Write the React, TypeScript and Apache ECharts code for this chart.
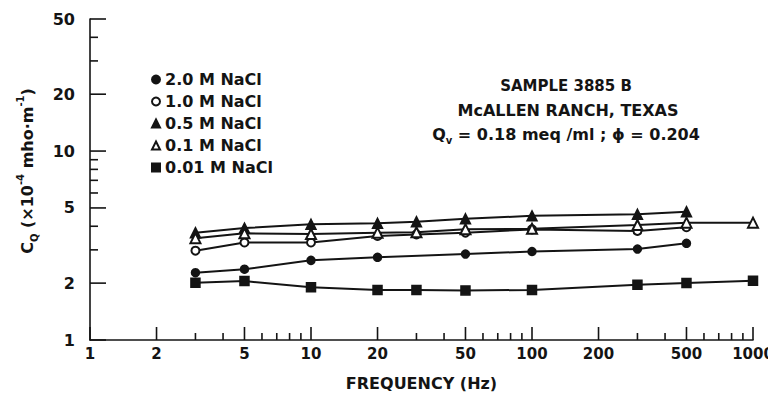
import React, { useEffect, useRef } from 'react';
import * as echarts from 'echarts';

// ---- data ----
const seriesNames = ['2.0 M NaCl', '1.0 M NaCl', '0.5 M NaCl', '0.1 M NaCl', '0.01 M NaCl'];
const seriesSymbols = ['circle', 'emptyCircle', 'triangle', 'emptyTriangle', 'rect'];

const freq20M = [3, 5, 10, 20, 50, 100, 300, 500];
const cq20M = [2.27, 2.37, 2.64, 2.74, 2.85, 2.94, 3.03, 3.25];

const freq10M = [3, 5, 10, 20, 30, 50, 100, 300, 500];
const cq10M = [2.97, 3.28, 3.28, 3.55, 3.62, 3.7, 3.85, 3.78, 3.95];

const freq05M = [3, 5, 10, 20, 30, 50, 100, 300, 500];
const cq05M = [3.7, 3.91, 4.1, 4.15, 4.23, 4.38, 4.54, 4.63, 4.78];

const freq01M = [3, 5, 10, 20, 30, 50, 100, 300, 500, 1000];
const cq01M = [3.46, 3.67, 3.64, 3.7, 3.72, 3.86, 3.88, 4.06, 4.18, 4.18];

const freq001M = [3, 5, 10, 20, 30, 50, 100, 300, 500, 1000];
const cq001M = [2.01, 2.05, 1.9, 1.84, 1.84, 1.83, 1.84, 1.96, 2.0, 2.06];

const xTickValues = [1, 2, 3, 4, 5, 6, 7, 8, 9, 10, 20, 30, 40, 50, 60, 70, 80, 90, 100, 200, 300, 400, 500, 600, 700, 800, 900, 1000];
const xLabelValues = [1, 2, 5, 10, 20, 50, 100, 200, 500, 1000];
const yTickValues = [1, 2, 3, 4, 5, 6, 7, 8, 9, 10, 20, 30, 40, 50];
const yLabelValues = [1, 2, 5, 10, 20, 50];

const annotationLines = ['SAMPLE 3885 B', 'McALLEN RANCH, TEXAS'];

const INK = '#141414';
const FONT = '"DejaVu Sans", sans-serif';
const WEIGHT = 'bold';

const seriesFreqs = [freq20M, freq10M, freq05M, freq01M, freq001M];
const seriesValues = [cq20M, cq10M, cq05M, cq01M, cq001M];

export default function App() {
  const ref = useRef<HTMLDivElement>(null);

  useEffect(() => {
    if (!ref.current) return;
    const chart = echarts.init(ref.current, undefined, { renderer: 'svg' });

    const lineSeries = seriesNames.map((name, i) => ({
      name,
      type: 'line',
      data: seriesFreqs[i].map((f, j) => [f, seriesValues[i][j]]),
      symbol: seriesSymbols[i],
      symbolSize: seriesSymbols[i].indexOf('riangle') >= 0 ? 10 : seriesSymbols[i] === 'rect' ? 9 : 8,
      lineStyle: { color: INK, width: 2 },
      itemStyle: { color: INK, borderColor: INK, borderWidth: 1.5 },
      z: 3,
    }));

    const xTickSeries = {
      type: 'custom',
      silent: true,
      clip: false,
      data: xTickValues.map((v) => [v, 1]),
      renderItem: (params: any, api: any) => {
        const v = api.value(0);
        const p = api.coord([v, 1]);
        const labeled = xLabelValues.indexOf(v) >= 0;
        const children: any[] = [
          {
            type: 'line',
            shape: { x1: p[0], y1: p[1], x2: p[0], y2: p[1] - (labeled ? 13 : 7) },
            style: { stroke: INK, lineWidth: 1.6 },
          },
        ];
        if (labeled) {
          children.push({
            type: 'text',
            x: p[0],
            y: p[1] + 6,
            style: {
              text: String(v),
              align: 'center',
              verticalAlign: 'top',
              fill: INK,
              fontSize: 15,
              fontWeight: WEIGHT,
              fontFamily: FONT,
            },
          });
        }
        return { type: 'group', children };
      },
    };

    const yTickSeries = {
      type: 'custom',
      silent: true,
      clip: false,
      data: yTickValues.map((v) => [1, v]),
      renderItem: (params: any, api: any) => {
        const v = api.value(1);
        const p = api.coord([1, v]);
        const labeled = yLabelValues.indexOf(v) >= 0;
        const children: any[] = [
          {
            type: 'line',
            shape: { x1: p[0], y1: p[1], x2: p[0] + (labeled ? 16 : 8), y2: p[1] },
            style: { stroke: INK, lineWidth: 1.6 },
          },
        ];
        if (labeled) {
          children.push({
            type: 'text',
            x: p[0] - 15,
            y: p[1],
            style: {
              text: String(v),
              align: 'right',
              verticalAlign: 'middle',
              fill: INK,
              fontSize: 16,
              fontWeight: WEIGHT,
              fontFamily: FONT,
            },
          });
        }
        return { type: 'group', children };
      },
    };

    const option: any = {
      animation: false,
      backgroundColor: '#ffffff',
      grid: { left: 90, right: 23, top: 19, bottom: 61, containLabel: false },
      xAxis: {
        type: 'log',
        logBase: 10,
        min: 1,
        max: 1000,
        name: 'FREQUENCY (Hz)',
        nameLocation: 'middle',
        nameGap: 35,
        nameTextStyle: { color: INK, fontSize: 16, fontWeight: WEIGHT, fontFamily: FONT },
        axisLine: { show: true, lineStyle: { color: INK, width: 1.6 } },
        axisTick: { show: false },
        axisLabel: { show: false },
        splitLine: { show: false },
        minorTick: { show: false },
        minorSplitLine: { show: false },
      },
      yAxis: {
        type: 'log',
        logBase: 10,
        min: 1,
        max: 50,
        axisLine: { show: true, lineStyle: { color: INK, width: 1.6 } },
        axisTick: { show: false },
        axisLabel: { show: false },
        splitLine: { show: false },
        minorTick: { show: false },
        minorSplitLine: { show: false },
      },
      legend: {
        orient: 'vertical',
        left: 151,
        top: 71,
        padding: 0,
        itemWidth: 8,
        itemHeight: 8,
        itemGap: 5,
        selectedMode: false,
        textStyle: { color: INK, fontSize: 16, fontWeight: WEIGHT, fontFamily: FONT, lineHeight: 17 },
        data: seriesNames.map((name, i) => ({ name, icon: seriesSymbols[i] })),
      },
      graphic: [
        {
          type: 'text',
          x: 27,
          y: 171,
          rotation: Math.PI / 2,
          style: {
            text: '{m|C}{sub|Q}{m| (×10}{sup|-4}{m| mho·m}{sup|-1}{m|)}',
            align: 'center',
            verticalAlign: 'middle',
            fill: INK,
            rich: {
              m: { fontSize: 16, fontWeight: WEIGHT, fontFamily: FONT, lineHeight: 24, fill: INK },
              sub: { fontSize: 10, fontWeight: WEIGHT, fontFamily: FONT, lineHeight: 10, verticalAlign: 'bottom', fill: INK },
              sup: { fontSize: 10, fontWeight: WEIGHT, fontFamily: FONT, lineHeight: 10, verticalAlign: 'top', fill: INK },
            },
          },
        },
        {
          type: 'text',
          x: 566,
          y: 86,
          style: { text: annotationLines[0], align: 'center', verticalAlign: 'middle', fill: INK, fontSize: 15, fontWeight: WEIGHT, fontFamily: FONT },
        },
        {
          type: 'text',
          x: 568,
          y: 110,
          style: { text: annotationLines[1], align: 'center', verticalAlign: 'middle', fill: INK, fontSize: 16, fontWeight: WEIGHT, fontFamily: FONT },
        },
        {
          type: 'text',
          x: 566,
          y: 134,
          style: {
            text: '{m|Q}{sub|v}{m| = 0.18 meq /ml ; ϕ = 0.204}',
            align: 'center',
            verticalAlign: 'middle',
            fill: INK,
            rich: {
              m: { fontSize: 16, fontWeight: WEIGHT, fontFamily: FONT, lineHeight: 22, fill: INK },
              sub: { fontSize: 10, fontWeight: WEIGHT, fontFamily: FONT, lineHeight: 10, verticalAlign: 'bottom', fill: INK },
            },
          },
        },
      ],
      series: [...lineSeries, xTickSeries, yTickSeries],
    };

    chart.setOption(option);
    return () => {
      chart.dispose();
    };
  }, []);

  return <div ref={ref} style={{ width: 776, height: 401, margin: -8 }} />;
}
